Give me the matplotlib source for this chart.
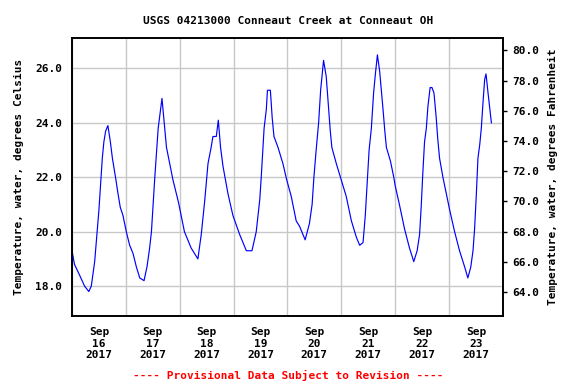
import matplotlib
matplotlib.use("Agg")
import matplotlib.pyplot as plt
import matplotlib.dates as mdates
import numpy as np
import pandas as pd

title = "USGS 04213000 Conneaut Creek at Conneaut OH"
ylabel_left = "Temperature, water, degrees Celsius"
ylabel_right = "Temperature, water, degrees Fahrenheit"
footer = "---- Provisional Data Subject to Revision ----"

# hours since 2017-09-16 00:00 and water temperature (deg C)
hours = [0, 1.1, 3.4, 5.6, 7.5, 8.6, 10.1, 11.1, 12.0, 12.7, 13.5, 14.2, 15.0, 16.0,
         17.1, 18.0, 19.4, 20.5, 21.5, 22.7, 24.2, 25.7, 27.2, 28.7, 30.2, 32.1,
         33.4, 34.6, 35.4, 36.9, 38.4, 40.1, 42.1, 45.0, 47.4,
         50.1, 53.1, 56.1, 57.6, 59.1, 60.6, 62.0, 62.8, 64.3, 65.2, 66.2, 67.3,
         69.5, 71.7, 74.7, 77.7, 80.2, 82.1, 83.7, 84.4, 85.6, 86.6, 87.1, 88.4,
         89.2, 90.0, 91.8, 94.0, 95.7,
         97.7, 99.9, 101.4, 103.9, 105.8, 107.0, 107.8, 108.8, 109.9, 110.8, 112.1,
         113.3, 114.1, 115.1, 115.8, 117.8, 120.0, 122.2, 124.5, 126.7, 128.2,
         129.7, 130.7, 131.6, 132.4, 133.4, 134.4, 135.2, 136.1, 137.1, 138.6,
         139.4, 140.1, 141.9, 143.4, 144.0,
         145.9, 148.2, 150.4, 152.3, 153.8, 154.9, 155.6, 156.3, 157.1, 157.9,
         158.6, 159.6, 160.4, 161.3, 162.3, 163.0, 163.8, 165.3, 166.8, 168.3,
         170.5, 172.7, 175.0, 176.4, 177.7, 178.7, 179.4, 180.2, 180.9, 181.7,
         182.4, 183.2, 183.9, 184.5, 185.4, 186.1, 186.9]
temps_c = [19.3, 18.8, 18.4, 18.0, 17.8, 18.0, 18.9, 19.9, 20.8, 21.7, 22.7, 23.3, 23.7, 23.9,
           23.3, 22.7, 22.0, 21.4, 20.9, 20.6, 20.0, 19.5, 19.2, 18.7, 18.3, 18.2,
           18.7, 19.4, 20.0, 22.0, 23.8, 24.9, 23.1, 21.9, 21.1,
           20.0, 19.4, 19.0, 19.9, 21.1, 22.5, 23.1, 23.5, 23.5, 24.1, 23.1, 22.4,
           21.4, 20.6, 19.9, 19.3, 19.3, 20.0, 21.2, 22.1, 23.8, 24.5, 25.2, 25.2,
           24.2, 23.5, 23.1, 22.5, 21.9,
           21.3, 20.4, 20.2, 19.7, 20.3, 21.0, 22.0, 23.0, 24.0, 25.2, 26.3,
           25.7, 24.8, 23.7, 23.1, 22.5, 21.9, 21.3, 20.4, 19.8, 19.5,
           19.6, 20.6, 21.9, 23.0, 23.8, 25.1, 25.8, 26.5, 25.9, 24.5,
           23.7, 23.1, 22.6, 22.0, 21.7,
           21.0, 20.1, 19.4, 18.9, 19.3, 19.9, 20.9, 22.1, 23.3, 23.8,
           24.6, 25.3, 25.3, 25.1, 24.2, 23.4, 22.7, 22.0, 21.4, 20.8,
           20.0, 19.3, 18.7, 18.3, 18.7, 19.3, 20.1, 21.4, 22.7, 23.2,
           23.8, 24.8, 25.6, 25.8, 25.1, 24.6, 24.0]

day_labels = ["Sep\n16\n2017", "Sep\n17\n2017", "Sep\n18\n2017", "Sep\n19\n2017",
              "Sep\n20\n2017", "Sep\n21\n2017", "Sep\n22\n2017", "Sep\n23\n2017"]
c_ticks = [18.0, 20.0, 22.0, 24.0, 26.0]
f_ticks = [64.0, 66.0, 68.0, 70.0, 72.0, 74.0, 76.0, 78.0, 80.0]

start = pd.Timestamp("2017-09-16 00:00")
times = [start + pd.Timedelta(hours=h) for h in hours]

font = {"family": "DejaVu Sans Mono", "weight": "bold", "size": 8}

fig = plt.figure(figsize=(5.76, 3.84), dpi=100)
ax = fig.add_axes([0.125, 0.177, 0.748, 0.724])
ax.plot(times, temps_c, color="#0000FF", lw=0.85)

x0 = start
x1 = start + pd.Timedelta(days=8)
ax.set_xlim(x0, x1)
ylo, yhi = 16.9, 27.12
ax.set_ylim(ylo, yhi)

# grid at midnight, labels at noon
ax.xaxis.set_major_locator(mdates.DayLocator())
ax.xaxis.set_major_formatter(plt.NullFormatter())
noon = [start + pd.Timedelta(days=i, hours=12) for i in range(len(day_labels))]
ax.set_xticks(noon, minor=True)
ax.set_xticklabels(day_labels, minor=True, fontdict=font)
ax.tick_params(axis="x", which="both", length=0, pad=8)

ax.set_yticks(c_ticks)
ax.set_yticklabels([f"{v:.1f}" for v in c_ticks], fontdict=font)
ax.tick_params(axis="y", which="major", length=0, pad=7)

ax.grid(True, which="major", color="#C8C8C8", lw=1.0)
ax.set_axisbelow(True)
for s in ax.spines.values():
    s.set_linewidth(1.2)

ax.set_ylabel(ylabel_left, fontdict=font, labelpad=8)

ax2 = ax.twinx()
ax2.set_ylim(ylo * 1.8 + 32, yhi * 1.8 + 32)
ax2.set_yticks(f_ticks)
ax2.set_yticklabels([f"{v:.1f}" for v in f_ticks], fontdict=font)
ax2.tick_params(axis="y", length=3, width=1, direction="out", pad=4)
ax2.set_ylabel(ylabel_right, fontdict=font, labelpad=6)
for s in ax2.spines.values():
    s.set_linewidth(1.2)

fig.text(0.5, 0.945, title, ha="center", va="center", **font)
fig.text(0.5, 0.022, footer, ha="center", va="center", color="red", **font)

fig.savefig("out.png", dpi=100, facecolor="white")
